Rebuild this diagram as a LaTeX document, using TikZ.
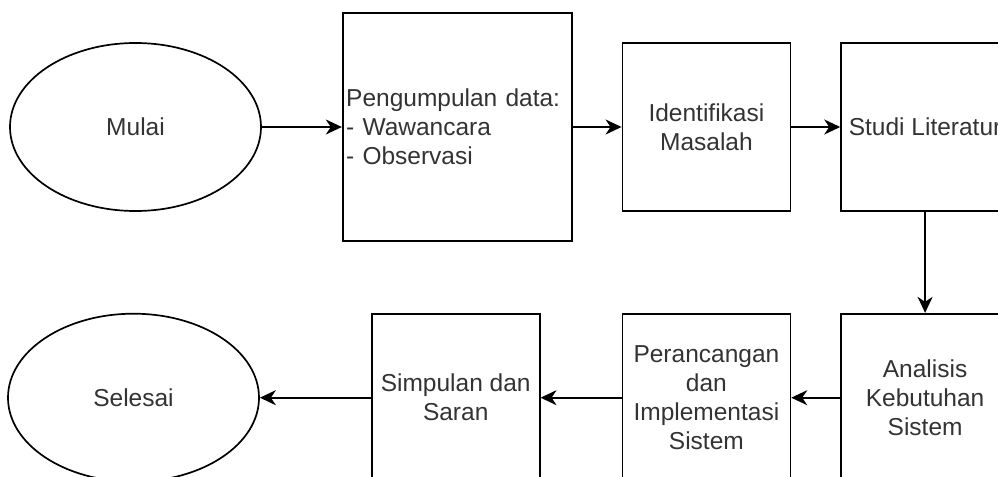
\documentclass[tikz,border=0pt]{standalone}
\usepackage{fontspec}
\setmainfont{Liberation Sans}
\usetikzlibrary{positioning,shapes.geometric,arrows.meta}

\begin{document}
\begin{tikzpicture}[x=0.5pt,y=-0.5pt]
  \tikzset{terminal/.style={
      ellipse, draw, line width=0.85pt, minimum width=125.5pt, minimum height=84pt,
      inner sep=0pt, font=\fontsize{12.25pt}{14.5pt}\selectfont, text=black!80
    },
    stepbox/.style={
      rectangle, draw, line width=0.85pt, minimum width=84pt, minimum height=84pt,
      inner sep=1.5pt, align=center, font=\fontsize{12.25pt}{14.5pt}\selectfont, text=black!80
    },
    flow/.style={-{Stealth[length=8pt,width=7.5pt,inset=2.5pt]}, line width=0.85pt}
  }

  \useasboundingbox (0,0) rectangle (998,477);
  \clip (0,0) rectangle (998,477);

  \node[terminal] (A) at (135.5,127) {Mulai};

  \node[stepbox, minimum width=114.5pt, minimum height=114pt, text width=111pt, align=left] (B) [right=40pt of A]
  {Pengumpulan data:\\- Wawancara\\- Observasi};

  \node[stepbox] (C) [right=24.5pt of B] {Identifikasi\\Masalah};
  \node[stepbox] (D) [right=24.5pt of C] {Studi Literatur};

  \node[stepbox] (E) [below=50.5pt of D] {Analisis\\Kebutuhan\\Sistem};
  \node[stepbox] (F) [left=24.5pt of E] {Perancangan\\dan\\Implementasi\\Sistem};
  \node[stepbox] (G) [left=40.5pt of F] {Simpulan dan\\Saran};
  \node[terminal] (H) [left=55.5pt of G] {Selesai};

  \draw[flow] (A) -- (B);
  \draw[flow] (B) -- (C);
  \draw[flow] (C) -- (D);
  \draw[flow] (D) -- (E);
  \draw[flow] (E) -- (F);
  \draw[flow] (F) -- (G);
  \draw[flow] (G) -- (H);
\end{tikzpicture}
\end{document}
